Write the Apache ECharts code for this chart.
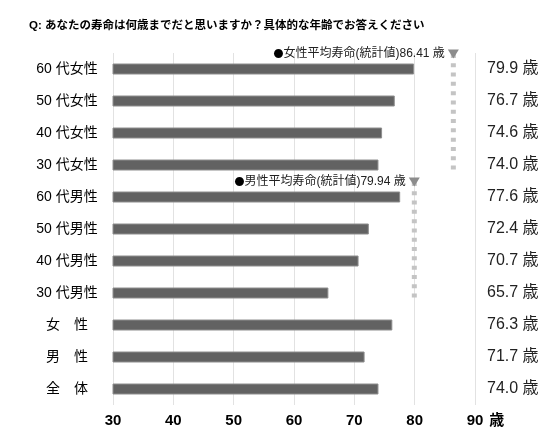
<!DOCTYPE html>
<html>
<head>
<meta charset="utf-8">
<script src="https://cdn.jsdelivr.net/npm/echarts@6/dist/echarts.min.js"></script>
<style>html,body{margin:0;padding:0;background:#fff;}#c{width:556px;height:446px;}</style>
</head>
<body>
<div id="c"></div>
<script>
const titleText = 'Q: あなたの寿命は何歳までだと思いますか？具体的な年齢でお答えください';
const categories = ['60 代女性','50 代女性','40 代女性','30 代女性','60 代男性','50 代男性','40 代男性','30 代男性','女　性','男　性','全　体'];
const values = [79.9, 76.7, 74.6, 74.0, 77.6, 72.4, 70.7, 65.7, 76.3, 71.7, 74.0];
const axisMin = 30, axisMax = 90, axisStep = 10;
const unit = '歳';
const femaleAvgLabel = '女性平均寿命(統計値)';
const femaleAvg = 86.41;
const maleAvgLabel = '男性平均寿命(統計値)';
const maleAvg = 79.94;

const FONT = '"Liberation Sans", Arial, "Noto Sans CJK JP", sans-serif';
const CJK = '"Noto Sans CJK JP", sans-serif';

function statLine(val, label, y0, y1) {
  return {
    type: 'line',
    yAxisIndex: 2,
    silent: true,
    z: 5,
    lineStyle: { color: '#c4c4c4', width: 5, type: [4, 5.3] },
    data: [
      { value: [val, y0], symbol: 'triangle', symbolRotate: 180, symbolSize: [11, 9],
        itemStyle: { color: '#8c8c8c' },
        label: { show: true, position: 'left', distance: 3,
                 formatter: '{d|●}' + label + val.toFixed(2) + ' ' + unit,
                 fontSize: 12, color: '#222', fontFamily: FONT,
                 rich: { d: { fontSize: 10, fontFamily: CJK, color: '#000' } } } },
      { value: [val, y1], symbol: 'none' }
    ]
  };
}

const chart = echarts.init(document.getElementById('c'), null, { renderer: 'canvas' });
chart.setOption({
  animation: false,
  backgroundColor: '#fff',
  title: {
    text: titleText, left: 24, top: 15,
    textStyle: { fontSize: 11.5, fontWeight: 'bold', color: '#000', fontFamily: FONT }
  },
  grid: { left: 113, right: 81, top: 53, bottom: 41, containLabel: false },
  xAxis: {
    type: 'value', min: axisMin, max: axisMax, interval: axisStep,
    name: unit, nameLocation: 'end', nameGap: 6,
    nameTextStyle: { fontSize: 15, fontWeight: 'bold', color: '#000', fontFamily: FONT, verticalAlign: 'top', padding: [8, 0, 0, 0] },
    axisLine: { show: false, onZero: false }, axisTick: { show: false },
    axisLabel: { fontSize: 15, fontWeight: 'bold', color: '#000', margin: 8, fontFamily: FONT },
    splitLine: { show: true, lineStyle: { color: '#e2e2e2', width: 1 } }
  },
  yAxis: [
    {
      type: 'category', data: categories, inverse: true, position: 'left',
      axisLine: { show: false }, axisTick: { show: false }, splitLine: { show: false },
      axisLabel: { fontSize: 14, color: '#000', align: 'center', margin: 46, fontFamily: FONT }
    },
    {
      type: 'category', data: values.map(v => v.toFixed(1) + ' ' + unit), inverse: true, position: 'right',
      axisLine: { show: false }, axisTick: { show: false }, splitLine: { show: false },
      axisLabel: { fontSize: 16, color: '#222', align: 'left', margin: 12, fontFamily: FONT }
    },
    { type: 'value', min: 0, max: categories.length, inverse: true, show: false }
  ],
  series: [
    {
      type: 'bar', data: values, yAxisIndex: 0, barWidth: 11,
      itemStyle: { color: '#626262', borderColor: '#8e8e8e', borderWidth: 1 }
    },
    statLine(femaleAvg, femaleAvgLabel, 0.03, 3.8),
    statLine(maleAvg, maleAvgLabel, 4.03, 7.8)
  ]
});
</script>
</body>
</html>
